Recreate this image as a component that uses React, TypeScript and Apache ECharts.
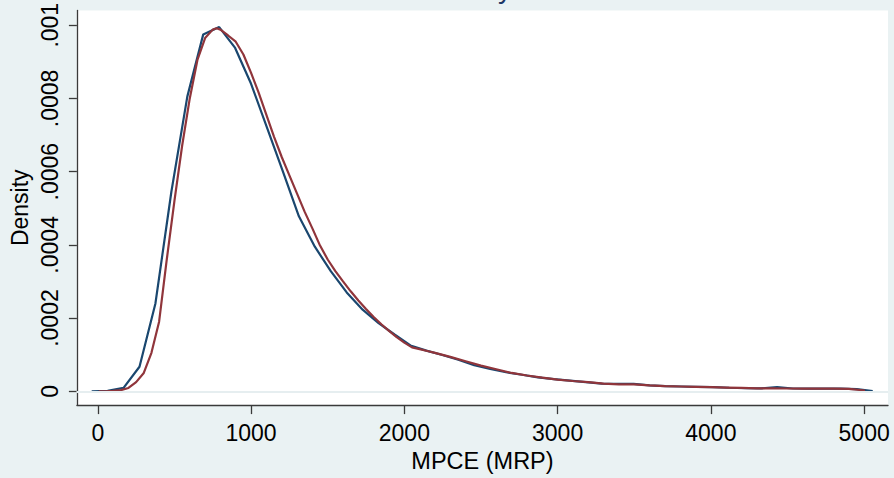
import React, { useEffect, useRef } from "react";
import * as echarts from "echarts";

// Kernel density points
const navyX = [
  -40, 64, 168, 272, 376, 480, 584, 688, 792, 896, 1000, 1104, 1208, 1312, 1416, 1520, 1624,
  1728, 1832, 1936, 2040, 2144, 2248, 2352, 2456, 2560, 2664, 2768, 2872, 2976, 3080, 3184,
  3288, 3392, 3496, 3600, 3704, 3808, 3912, 4016, 4120, 4224, 4328, 4432, 4536, 4640, 4744,
  4848, 4952, 5056,
];
const navyY = [
  0, 0.01e-4, 0.09e-4, 0.67e-4, 2.4e-4, 5.45e-4, 8.05e-4, 9.75e-4, 9.95e-4, 9.38e-4, 8.4e-4,
  7.2e-4, 6.0e-4, 4.78e-4, 3.95e-4, 3.28e-4, 2.7e-4, 2.23e-4, 1.86e-4, 1.55e-4, 1.25e-4,
  1.11e-4, 0.99e-4, 0.86e-4, 0.71e-4, 0.61e-4, 0.52e-4, 0.45e-4, 0.38e-4, 0.33e-4, 0.29e-4,
  0.25e-4, 0.21e-4, 0.2e-4, 0.2e-4, 0.16e-4, 0.14e-4, 0.13e-4, 0.12e-4, 0.11e-4, 0.095e-4,
  0.085e-4, 0.08e-4, 0.115e-4, 0.075e-4, 0.07e-4, 0.07e-4, 0.07e-4, 0.06e-4, 0.005e-4,
];

const maroonX = [
  6, 50, 100, 150, 200, 250, 300, 350, 400, 450, 500, 550, 600, 650, 700, 750, 775, 800, 850,
  900, 950, 1000, 1050, 1100, 1150, 1200, 1250, 1300, 1350, 1400, 1450, 1500, 1550, 1600,
  1650, 1700, 1750, 1800, 1850, 1900, 1950, 2000, 2050, 2100, 2150, 2200, 2300, 2400, 2500,
  2600, 2700, 2800, 2900, 3000, 3100, 3200, 3300, 3400, 3500, 3600, 3700, 3800, 3900, 4000,
  4100, 4200, 4300, 4400, 4500, 4600, 4700, 4800, 4900, 5006,
];
const maroonY = [
  0, 0, 0.01e-4, 0.03e-4, 0.09e-4, 0.25e-4, 0.5e-4, 1.05e-4, 1.9e-4, 3.6e-4, 5.2e-4, 6.7e-4,
  8.0e-4, 9.05e-4, 9.65e-4, 9.88e-4, 9.92e-4, 9.88e-4, 9.72e-4, 9.55e-4, 9.2e-4, 8.7e-4,
  8.15e-4, 7.55e-4, 6.95e-4, 6.4e-4, 5.9e-4, 5.4e-4, 4.9e-4, 4.45e-4, 3.98e-4, 3.6e-4,
  3.28e-4, 3.0e-4, 2.73e-4, 2.48e-4, 2.25e-4, 2.03e-4, 1.83e-4, 1.65e-4, 1.48e-4, 1.33e-4,
  1.2e-4, 1.15e-4, 1.1e-4, 1.05e-4, 0.94e-4, 0.82e-4, 0.7e-4, 0.6e-4, 0.5e-4, 0.43e-4,
  0.37e-4, 0.32e-4, 0.28e-4, 0.25e-4, 0.21e-4, 0.19e-4, 0.19e-4, 0.16e-4, 0.14e-4, 0.13e-4,
  0.12e-4, 0.11e-4, 0.1e-4, 0.09e-4, 0.08e-4, 0.08e-4, 0.075e-4, 0.07e-4, 0.07e-4, 0.07e-4,
  0.065e-4, 0.02e-4,
];

const xTickValues = [0, 1000, 2000, 3000, 4000, 5000];
const xTickLabels = ["0", "1000", "2000", "3000", "4000", "5000"];
const yTickValues = [0, 0.0002, 0.0004, 0.0006, 0.0008, 0.001];
const yTickLabels = ["0", ".0002", ".0004", ".0006", ".0008", ".001"];

const titleText = "Kernel density estimate";
const xTitle = "MPCE (MRP)";
const yTitle = "Density";

const FONT = "'Liberation Sans', Arial, sans-serif";
const BG = "#EAF2F3";
const NAVY = "#1A476F";
const MAROON = "#90353B";
const AXIS = "#3a3a3a";

function labelFor(values: number[], labels: string[], v: number) {
  for (let i = 0; i < values.length; i++) {
    if (Math.abs(values[i] - v) < 1e-9 * Math.max(1, Math.abs(values[i]))) return labels[i];
  }
  return "";
}

export default function App() {
  const ref = useRef<HTMLDivElement>(null);

  useEffect(() => {
    if (!ref.current) return;
    const chart = echarts.init(ref.current, undefined, { renderer: "svg" });
    const navyData = navyX.map((x, i) => [x, navyY[i]]);
    const maroonData = maroonX.map((x, i) => [x, maroonY[i]]);

    chart.setOption({
      animation: false,
      backgroundColor: BG,
      textStyle: { fontFamily: FONT },
      graphic: [
        {
          type: "text",
          x: 480,
          y: -12,
          silent: true,
          style: {
            text: titleText,
            fontSize: 28,
            fontFamily: FONT,
            fill: "#1E3765",
            textAlign: "center",
            textVerticalAlign: "middle",
          },
        },
      ],
      grid: {
        left: 73,
        right: 6,
        top: 10,
        bottom: 69,
        show: true,
        backgroundColor: "#ffffff",
        borderWidth: 0,
        containLabel: false,
      },
      xAxis: {
        type: "value",
        min: -136.4,
        max: 5155.8,
        name: xTitle,
        nameLocation: "middle",
        nameGap: 37,
        nameTextStyle: { fontSize: 23.5, color: "#000", fontFamily: FONT },
        axisLine: { show: true, onZero: false, lineStyle: { color: AXIS, width: 1.3 } },
        axisTick: {
          show: true,
          length: 9,
          customValues: xTickValues,
          lineStyle: { color: AXIS, width: 1.3 },
        },
        axisLabel: {
          customValues: xTickValues,
          fontSize: 23,
          color: "#000",
          fontFamily: FONT,
          margin: 16,
          formatter: (v: number) => labelFor(xTickValues, xTickLabels, v),
        },
        splitLine: { show: false },
      },
      yAxis: {
        type: "value",
        min: -0.00003784,
        max: 0.0010405,
        name: yTitle,
        nameLocation: "middle",
        nameRotate: 90,
        nameGap: 38,
        nameTextStyle: { fontSize: 23, color: "#000", fontFamily: FONT },
        axisLine: { show: true, onZero: false, lineStyle: { color: AXIS, width: 1.3 } },
        axisTick: {
          show: true,
          length: 8,
          customValues: yTickValues,
          lineStyle: { color: AXIS, width: 1.3 },
        },
        axisLabel: {
          customValues: yTickValues,
          rotate: 90,
          fontSize: 23,
          color: "#000",
          fontFamily: FONT,
          margin: 15,
          formatter: (v: number) => labelFor(yTickValues, yTickLabels, v),
        },
        splitLine: { show: false },
      },
      series: [
        {
          type: "line",
          name: "grid",
          data: [],
          silent: true,
          markLine: {
            silent: true,
            symbol: "none",
            label: { show: false },
            lineStyle: { color: "#E6EEF0", width: 2, type: "solid" },
            data: yTickValues.map((v) => ({ yAxis: v })),
          },
        },
        {
          type: "line",
          name: "navy",
          data: navyData,
          showSymbol: false,
          symbol: "none",
          lineStyle: { color: NAVY, width: 2.2 },
          itemStyle: { color: NAVY },
        },
        {
          type: "line",
          name: "maroon",
          data: maroonData,
          showSymbol: false,
          symbol: "none",
          lineStyle: { color: MAROON, width: 2.2 },
          itemStyle: { color: MAROON },
        },
      ],
    });

    return () => chart.dispose();
  }, []);

  return (
    <div
      ref={ref}
      style={{ position: "absolute", left: 0, top: 0, width: 894, height: 478 }}
    />
  );
}
